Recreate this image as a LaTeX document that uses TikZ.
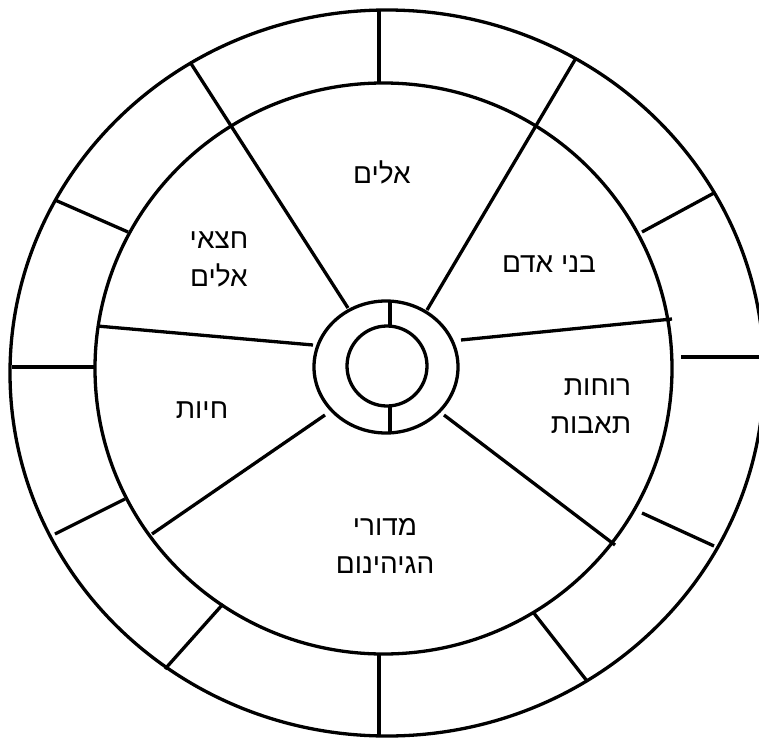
\documentclass[tikz,border=0pt]{standalone}
\usepackage{fontspec}
\TeXXeTstate=1
\newfontfamily\hebfont[Script=Hebrew]{Liberation Sans}
\begin{document}
\begin{tikzpicture}[x=1pt,y=-1pt,
  wheel/.style={line width=3.3pt, draw=black},
  lbl/.style={font=\hebfont\fontsize{28}{38}\selectfont, inner sep=0pt, align=center}]
\useasboundingbox (0,0) rectangle (759,738);
% circles
\draw[wheel] (387,373) ellipse [x radius=377, y radius=363];
\draw[wheel] (383.5,368.5) ellipse [x radius=288.5, y radius=285.5];
\draw[wheel] (386,367) ellipse [x radius=72, y radius=66];
\draw[wheel] (387,366) circle [radius=40];
% hub ties
\draw[wheel] (390,301) -- (390,326);
\draw[wheel] (390,406) -- (390,433);
% spokes of the realms
\draw[wheel] (348,308) -- (190,62);
\draw[wheel] (427,310) -- (576,58);
\draw[wheel] (461,340) -- (672,319);
\draw[wheel] (313,345) -- (97,326);
\draw[wheel] (325,415) -- (152,534);
\draw[wheel] (444,415) -- (615,545);
% dividers of the outer ring
\draw[wheel] (379,10) -- (379,83);
\draw[wheel] (55,200) -- (128,232);
\draw[wheel] (12,367) -- (95,367);
\draw[wheel] (55,534) -- (125,499);
\draw[wheel] (165,669) -- (223,604);
\draw[wheel] (379,654) -- (379,736);
\draw[wheel] (533,612) -- (587,681);
\draw[wheel] (642,513) -- (714,546);
\draw[wheel] (681,357) -- (759,357);
\draw[wheel] (642,232) -- (714,193);
% labels
\node[lbl] (gods) at (382,172) {\beginR אלים\endR};
\node[lbl] (demigods) at (219,259) {\beginR חצאי\endR\\\beginR אלים\endR};
\node[lbl] (humans) at (549,264) {\beginR בני אדם\endR};
\node[lbl, align=right] (ghosts) at (591,406) {\beginR רוחות\endR\\\beginR תאבות\endR};
\node[lbl] (hells) at (385,546) {\beginR מדורי\endR\\\beginR הגיהינום\endR};
\node[lbl] (animals) at (202,410) {\beginR חיות\endR};
\end{tikzpicture}
\end{document}
